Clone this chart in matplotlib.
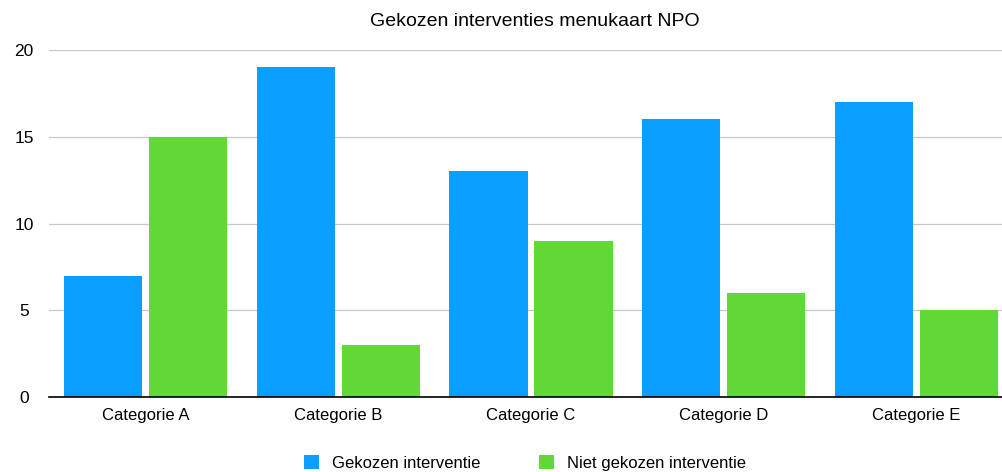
import numpy as np
import matplotlib.pyplot as plt

plt.rcParams['font.family'] = ['Liberation Sans', 'DejaVu Sans']

categories = ['Categorie A', 'Categorie B', 'Categorie C', 'Categorie D', 'Categorie E']
gekozen = [7, 19, 13, 16, 17]
niet_gekozen = [15, 3, 9, 6, 5]
series_labels = ['Gekozen interventie', 'Niet gekozen interventie']

W, H = 1002, 472
fig = plt.figure(figsize=(W / 100, H / 100), dpi=100)
# plot area runs a bit past the right edge, like the source
ax = fig.add_axes([49 / W, 1 - 397 / H, 964 / W, 347 / H])

x = np.arange(len(categories))
bw = 0.405
gap = 0.036
ax.bar(x - (bw + gap) / 2, gekozen, bw, color='#0A9EFF', label=series_labels[0], zorder=2)
ax.bar(x + (bw + gap) / 2, niet_gekozen, bw, color='#61D836', label=series_labels[1], zorder=2)

ax.set_xlim(-0.5, len(categories) - 0.5)
ax.set_ylim(0, 20)
ax.set_yticks([0, 5, 10, 15, 20])
ax.yaxis.grid(True, color='#c8c8c8', linewidth=0.9, zorder=0)
ax.set_axisbelow(True)
for s in ['top', 'right', 'left']:
    ax.spines[s].set_visible(False)
ax.spines['bottom'].set_color('black')
ax.spines['bottom'].set_linewidth(1.2)
ax.spines['bottom'].set_zorder(3)
ax.set_xticks(x)
ax.set_xticklabels(categories, fontsize=12)
ax.tick_params(axis='x', length=0, pad=8)
ax.tick_params(axis='y', length=0, pad=18, labelsize=12.5)
for t in ax.get_yticklabels():
    t.set_horizontalalignment('center')

fig.text(535 / W, 1 - 22 / H, 'Gekozen interventies menukaart NPO', ha='center', va='center', fontsize=14)

fig.legend(loc='center', bbox_to_anchor=(525 / W, 1 - 463 / H), ncol=2, frameon=False,
           fontsize=12, handlelength=0.9, handleheight=0.9, columnspacing=3.5, handletextpad=0.8)

fig.savefig('out.png', dpi=100)
